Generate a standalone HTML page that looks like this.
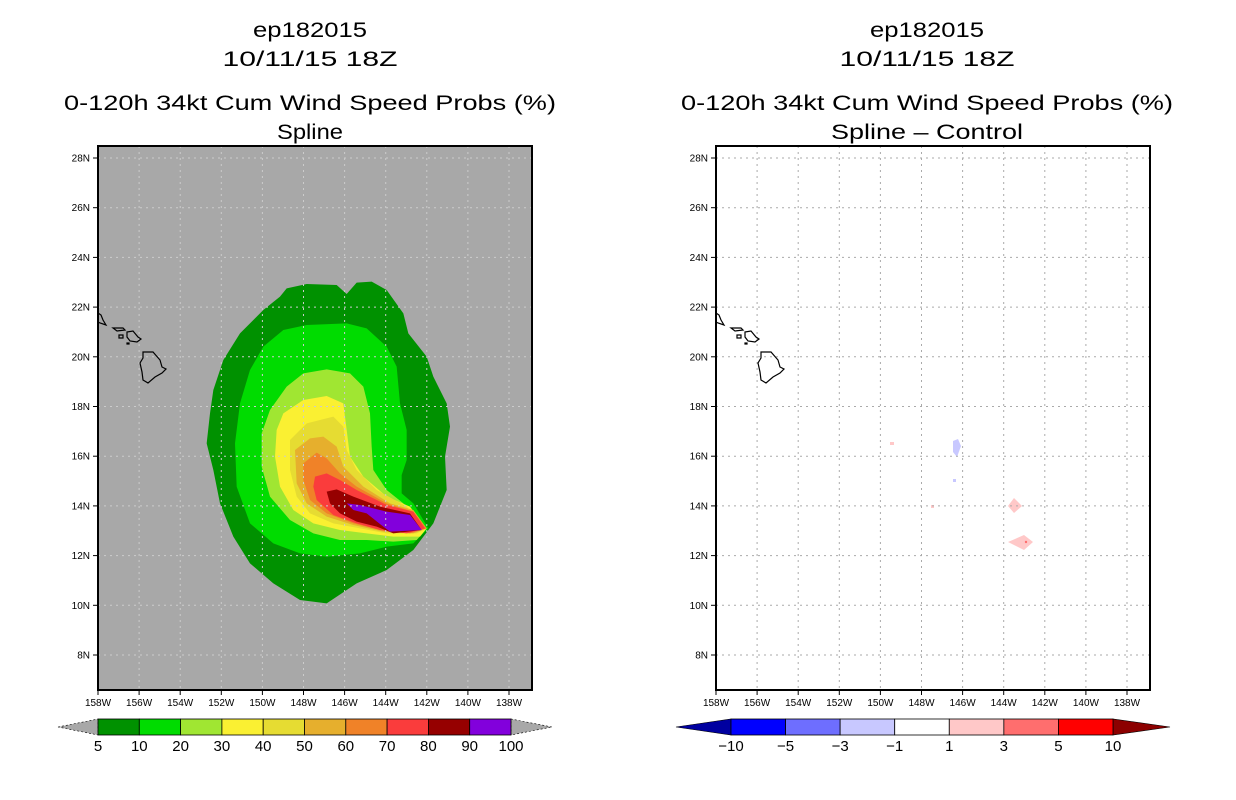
<!DOCTYPE html>
<html><head><meta charset="utf-8"><style>
body{margin:0;background:#fff;}
svg{display:block;font-family:"Liberation Sans",sans-serif;}
</style></head><body>
<svg id="s" width="1236" height="800" xmlns="http://www.w3.org/2000/svg"></svg>
<script>
const NS="http://www.w3.org/2000/svg";
const svg=document.getElementById('s');
// data arrays
const lonTicks=[158,156,154,152,150,148,146,144,142,140,138];
const latTicks=[28,26,24,22,20,18,16,14,12,10,8];
const probLevels=[5,10,20,30,40,50,60,70,80,90,100];
const probColors=['#009100','#00dc00','#a0e632','#faf032','#e6dc32','#e6af2d','#f08228','#fa3c3c','#960000','#8200dc'];
const diffLevels=[-10,-5,-3,-1,1,3,5,10];
const diffColors=['#0000a0','#0000ff','#6e6eff','#c8c8ff','#ffffff','#ffc8c8','#ff6e6e','#ff0000','#8c0000'];
const contours=[
[[240,80],[260,55],[320,42],[410,45],[440,72],[470,38],[515,35],[560,60],[610,130],[625,190],[680,260],[700,320],[740,400],[750,470],[735,560],[740,660],[700,760],[640,840],[560,900],[470,940],[380,1000],[300,990],[220,940],[150,880],[100,800],[60,700],[40,600],[20,520],[30,430],[40,360],[70,270],[120,190],[190,120]],
[[190,230],[250,180],[320,165],[440,160],[500,175],[560,230],[590,290],[600,400],[620,480],[620,570],[605,615],[605,670],[640,700],[685,775],[640,820],[560,830],[480,850],[380,860],[300,850],[220,820],[150,760],[110,650],[105,520],[120,400],[150,300]],
[[310,310],[380,298],[450,310],[490,350],[510,430],[515,530],[520,600],[560,660],[610,700],[680,775],[650,810],[580,815],[500,810],[420,810],[340,790],[270,750],[210,680],[185,590],[185,490],[210,420],[260,350]],
[[250,430],[310,390],[380,378],[430,400],[440,480],[450,560],[490,620],[560,680],[630,710],[680,775],[660,800],[580,800],[500,790],[420,780],[340,760],[280,720],[240,650],[225,560],[230,480]],
[[270,510],[320,460],[400,440],[430,470],[440,540],[470,600],[530,660],[620,710],[680,775],[650,790],[560,790],[480,775],[400,760],[330,730],[290,680],[270,600]],
[[285,540],[330,505],[370,500],[410,530],[430,590],[490,650],[570,700],[640,720],[680,775],[640,790],[550,785],[460,765],[380,740],[320,700],[290,640]],
[[310,580],[350,548],[380,565],[420,610],[470,650],[560,700],[640,725],[680,775],[630,790],[540,780],[460,760],[380,730],[330,690],[310,630]],
[[345,620],[380,610],[420,630],[470,660],[560,705],[640,725],[675,775],[620,790],[540,780],[470,760],[400,735],[350,690],[340,650]],
[[380,665],[410,658],[460,680],[540,710],[630,730],[665,780],[580,790],[530,770],[470,755],[420,730],[390,700]],
[[440,700],[480,705],[560,725],[630,735],[665,780],[570,785],[550,770],[500,730],[460,720]]
];
const islands=[
[[143,352],[153,352],[160,360],[162,367],[166,369],[162,373],[155,377],[148,383],[143,380],[142,372],[140,363],[143,358]],
[[127,332],[133,331],[138,337],[141,339],[137,342],[130,341],[127,337]],
[[113,328],[123,328],[125,330],[117,331]],
[[119,335],[123,335],[123,338],[119,338]],
[[127,343],[129,343],[129,344],[127,344]],
[[98,313],[101,315],[103,320],[106,325],[100,323],[98,322]]
];
const diffBlobs=[
[[953,441],[958,439],[961,446],[957,457],[953,452]],
[[1008,506],[1014,498],[1022,506],[1014,513]],
[[1008,542],[1024,535],[1033,542],[1024,550]],
[[890,442],[894,442],[894,445],[890,445]],
[[931,505],[934,505],[934,508],[931,508]],
[[953,479],[956,479],[956,482],[953,482]]
];
const diffBlobColors=['#c8c8ff','#ffc8c8','#ffc8c8','#ffc8c8','#ffc8c8','#c8c8ff'];

function el(t,a,p){const e=document.createElementNS(NS,t);for(const k in a)e.setAttribute(k,a[k]);(p||svg).appendChild(e);return e;}
const PL=[98,716], PT=146, PW=434, PH=544;
function xOf(lon,off){return off+98+(158-lon)*20.55;}
function yOf(lat){return 158+(28-lat)*24.85;}

function panel(i,title4,len4){
  const off=PL[i]-98, cx=i?927:310;
  const g=el('g',{});
  
  
  const titles=['ep182015','10/11/15 18Z','0-120h 34kt Cum Wind Speed Probs (%)',title4];
  const ty=[37,66,110,139];
  const lens=[114,175,492,len4];
  titles.forEach((t,k)=>{const e=el('text',{x:cx,y:ty[k],'text-anchor':'middle','font-size':21,fill:'#000',textLength:lens[k],lengthAdjust:'spacingAndGlyphs'},g);e.textContent=t;
    });
  const bg=el('rect',{x:PL[i],y:PT,width:PW,height:PH,fill:i?'#fff':'#a8a8a8'},g);
  
  if(i===0){
    contours.forEach((c,k)=>{const p=el('polygon',{points:c.map(q=>(q[0]/3+200)+','+(q[1]/3+270)).join(' '),fill:probColors[k]},g);
      });
  } else {
    diffBlobs.forEach((c,k)=>{const p=el('polygon',{points:c.map(q=>q.join(',')).join(' '),fill:diffBlobColors[k]},g);
      });
    el('circle',{cx:1026,cy:542,r:1.2,fill:'#ff6e6e'},g);
  }
  lonTicks.forEach(l=>{const x=xOf(l,off);
    el('line',{x1:x,y1:PT,x2:x,y2:PT+PH,stroke:i?'#aaa':'#ccc','stroke-dasharray':'2,4','stroke-width':1},g);
    el('line',{x1:x,y1:PT+PH,x2:x,y2:PT+PH+5,stroke:'#000'},g);
    const t=el('text',{x:x,y:PT+PH+16,'text-anchor':'middle','font-size':10},g);t.textContent=l+'W';
    });
  latTicks.forEach(l=>{const y=yOf(l);
    el('line',{x1:PL[i],y1:y,x2:PL[i]+PW,y2:y,stroke:i?'#aaa':'#ccc','stroke-dasharray':'2,4','stroke-width':1},g);
    el('line',{x1:PL[i]-5,y1:y,x2:PL[i],y2:y,stroke:'#000'},g);
    const t=el('text',{x:PL[i]-8,y:y+3.5,'text-anchor':'end','font-size':10},g);t.textContent=l+'N';
    });
  islands.forEach(c=>{const p=el('polygon',{points:c.map(q=>(q[0]+off)+','+q[1]).join(' '),fill:'none',stroke:'#000','stroke-width':1.2},g);
    });
  el('rect',{x:PL[i],y:PT,width:PW,height:PH,fill:'none',stroke:'#000','stroke-width':2},g);
}
panel(0,'Spline',66);
panel(1,'Spline – Control',192);

(function(){
  const g=el('g',{});
  const x0=98,x1=511,y0=719,y1=735,w=(x1-x0)/probColors.length;
  el('polygon',{points:`58,727 ${x0},${y0} ${x0},${y1}`,fill:'#a8a8a8',stroke:'#000','stroke-dasharray':'2,2','stroke-width':0.6},g);
  el('polygon',{points:`552,727 ${x1},${y0} ${x1},${y1}`,fill:'#a8a8a8',stroke:'#000','stroke-dasharray':'2,2','stroke-width':0.6},g);
  probColors.forEach((c,k)=>{el('rect',{x:x0+k*w,y:y0,width:w,height:y1-y0,fill:c,stroke:'#000','stroke-width':0.8},g);});
  probLevels.forEach((v,k)=>{const t=el('text',{x:x0+k*w,y:751,'text-anchor':'middle','font-size':15},g);t.textContent=v;
    });
})();
(function(){
  const g=el('g',{});
  const x0=731,x1=1113,y0=719,y1=735,n=diffColors.length-2,w=(x1-x0)/n;
  el('polygon',{points:`676,727 ${x0},${y0} ${x0},${y1}`,fill:diffColors[0],stroke:'#000','stroke-width':0.6},g);
  el('polygon',{points:`1170,727 ${x1},${y0} ${x1},${y1}`,fill:diffColors[n+1],stroke:'#000','stroke-width':0.6},g);
  for(let k=0;k<n;k++)el('rect',{x:x0+k*w,y:y0,width:w,height:y1-y0,fill:diffColors[k+1],stroke:'#000','stroke-width':0.8},g);
  diffLevels.forEach((v,k)=>{const t=el('text',{x:x0+k*w,y:751,'text-anchor':'middle','font-size':15},g);t.textContent=v<0?'−'+(-v):v;
    });
})();
</script>
</body></html>
